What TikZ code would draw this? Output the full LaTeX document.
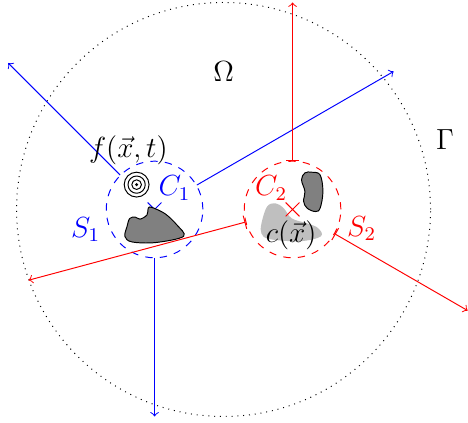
\documentclass[tikz,border=0pt]{standalone}
\usetikzlibrary{calc}
\begin{document}
\begin{tikzpicture}[x=1cm,y=1cm,
  every node/.style={font=\large},
  sensor/.style={circle, draw, dashed, minimum size=1.4cm, inner sep=0pt},
  ray/.style={->},
  rayb/.style={|->},
  blobdark/.style={draw=black, fill=black!50},
  bloblight/.style={fill=black!25},
  crossmark/.style={line width=0.4pt}]
\useasboundingbox (-3.24,-3.094) rectangle (3.543,3.036);
% domain
\node[circle, draw, dotted, minimum size=6cm, inner sep=0pt] (Om) at (0,0) {};
\node (omega) at (0,2.0) {$\Omega$};
\node (gamma) at (3.21,1.01) {$\Gamma$};
% sensor circles
\node[sensor, blue] (S1c) at (-1,0) {};
\node[sensor, red] (S2c) at (1,0) {};
% ray end points
\coordinate (b1) at ($(S1c.center)+(135:3)$);
\coordinate (b2) at ($(S1c.center)+(30:4)$);
\coordinate (b3) at ($(S1c.center)+(270:3)$);
\coordinate (r1) at ($(S2c.center)+(90:3)$);
\coordinate (r2) at ($(S2c.center)+(195:3.96)$);
\coordinate (r3) at ($(S2c.center)+(-30:2.93)$);
\draw[ray, blue] (S1c.135) -- (b1);
\draw[ray, blue] (S1c.30) -- (b2);
\draw[ray, blue] (S1c.270) -- (b3);
\draw[rayb, red] (S2c.90) -- (r1);
\draw[rayb, red] (S2c.195) -- (r2);
\draw[rayb, red] (S2c.-30) -- (r3);
% blue cross C1
\draw[blue, crossmark] ($(S1c.center)+(-0.1,-0.1)$) -- ($(S1c.center)+(0.1,0.1)$)
  ($(S1c.center)+(-0.1,0.1)$) -- ($(S1c.center)+(0.1,-0.1)$);
% obstacle in S1
\draw[blobdark] plot[smooth cycle, tension=0.55] coordinates {
  (-1.43,-0.39) (-1.40,-0.25) (-1.36,-0.13) (-1.28,-0.11) (-1.21,-0.14)
  (-1.11,-0.08) (-1.09,0.02) (-1.04,0.03) (-0.85,-0.06) (-0.68,-0.22)
  (-0.58,-0.39) (-0.99,-0.48) (-1.33,-0.47)};
% source
\coordinate (src) at (-1.26,0.36);
\draw (src) circle (0.18) (src) circle (0.125) (src) circle (0.07);
\fill (src) circle (0.025);
% light gray region in S2
\fill[bloblight] plot[smooth cycle, tension=0.6] coordinates {
  (0.55,-0.20) (0.63,0.04) (0.75,0.09) (0.87,0.02) (0.99,-0.13)
  (1.21,-0.20) (1.37,-0.27) (1.41,-0.39) (1.11,-0.46) (0.67,-0.43) (0.55,-0.35)};
% dark obstacle in S2
\draw[blobdark] plot[smooth cycle, tension=0.6] coordinates {
  (1.28,0.54) (1.40,0.50) (1.44,0.26) (1.40,0.02) (1.33,-0.03)
  (1.21,0.02) (1.16,0.12) (1.18,0.26) (1.13,0.43) (1.18,0.53)};
% red cross C2
\draw[red, crossmark] ($(S2c.center)+(-0.1,-0.1)$) -- ($(S2c.center)+(0.1,0.1)$)
  ($(S2c.center)+(-0.1,0.1)$) -- ($(S2c.center)+(0.1,-0.1)$);
% labels
\node[blue] (C1) at (-0.71,0.31) {$C_1$};
\node[red] (C2) at (0.69,0.31) {$C_2$};
\node[blue] (S1) at (-2.0,-0.29) {$S_1$};
\node[red] (S2) at (2.0,-0.28) {$S_2$};
\node (f) at (-1.38,0.86) {$f(\vec{x},t)$};
\node (c) at (0.98,-0.37) {$c(\vec{x})$};
\end{tikzpicture}
\end{document}
